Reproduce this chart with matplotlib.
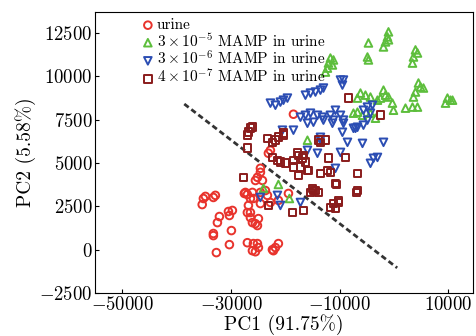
import matplotlib
matplotlib.use("Agg")
import matplotlib.pyplot as plt

plt.rcParams['font.family'] = 'serif'
plt.rcParams['font.serif'] = ['cmr10']
plt.rcParams['mathtext.fontset'] = 'cm'
plt.rcParams['axes.formatter.use_mathtext'] = True

# urine
urine_x = [-35300, -35080, -33240, -32870, -32130, -32500, -30470, -29740, -30290, -33240,
           -33240, -29920, -30290, -32690, -26980, -26790, -26420, -26980, -26420, -26050,
           -25500, -24950, -25130, -26980, -25870, -25130, -26050, -25500, -24950, -22190,
           -21820, -21270, -22370, -24580, -25870, -24580, -26420, -18500, -22740, -23110,
           -24580, -25130, -24210, -25500, -27340, -26050, -23290, -22740, -19420, -27530,
           -23660, -21270, -34700, -24580]
urine_y = [2600, 2950, 3010, 3130, 1910, 1560, 2200, 2260, 1970, 930,
           810, 1100, 290, -170, 3180, 2550, 2140, 2140, 1850, 1560,
           1500, 1790, 1390, 400, 350, 350, -60, -120, 120, -60,
           120, 350, 0, 3300, 2950, 2660, 2950, 7810, 5730, 5560,
           4460, 4170, 3990, 3990, 3300, 3300, 3130, 2720, 3240, 3240,
           3410, 2840, 3070, 4690]

# 3x10^-5 MAMP
g_x = [-1000, -1190, -1550, -1920, -1000, -4690, -4870, -4690, 3970, 3600,
       3420, 4340, -11690, -12050, -12240, -11130, -11320, -12610, 4520, 4890,
       5440, 3970, 3600, 9860, 10420, 9500, 10790, -1920, -1550, -1000,
       -2480, -3030, -6160, -5240, -4320, -6710, -270, -80, 2130, 3420,
       4340, -7450, -6710, -5790, -3400, -4320, -15920, -24030, -21270, -19240]
g_y = [12560, 12270, 11980, 11690, 12100, 11920, 11110, 10940, 11520, 11110,
       10760, 11340, 11050, 10760, 10470, 10940, 10650, 10240, 9610, 9380,
       9320, 9090, 8800, 8740, 8620, 8450, 8620, 9200, 8910, 8800,
       8740, 8620, 9030, 8910, 8800, 8740, 8450, 8040, 8160, 8220,
       8220, 7870, 7930, 7750, 7580, 7870, 6310, 3530, 3760, 2950]

# 3x10^-6 MAMP
b_x = [-22740, -21820, -20900, -20340, -19610, -16290, -15370, -14450, -13530, -12980,
       -9840, -9480, -9290, -17210, -16290, -15370, -14080, -13160, -11690, -10770,
       -9840, -9290, -15920, -14820, -12980, -11130, -9290, -6710, -7450, -5610,
       -4870, -4320, -4870, -3950, -5610, -20530, -18500, -8550, -5790, -1920,
       -13530, -15920, -14080, -9840, -4320, -3770, -3030, -10770, -17210, -11320,
       -9480, -7080, -24580, -21450, -20900, -13530]
b_y = [8450, 8330, 8510, 8620, 8740, 8910, 9030, 9090, 9200, 9320,
       9780, 9490, 9780, 7640, 7750, 7870, 7750, 7640, 7750, 8040,
       7750, 7470, 7290, 7350, 7470, 7470, 7290, 7060, 7000, 7180,
       7470, 7870, 8220, 8330, 8040, 6890, 6890, 6190, 6130, 6190,
       6310, 5730, 5560, 5610, 4980, 5270, 5320, 4690, 2720, 7290,
       6770, 7000, 3010, 3130, 2550, 6480]

# 4x10^-7 MAMP
r_x = [-26790, -26420, -26050, -23290, -21820, -21270, -20340, -22370, -13530, -12610,
       -8370, -2480, -26980, -26980, -22370, -21450, -20900, -19980, -18500, -17580,
       -16840, -16290, -17210, -15920, -17580, -27710, -15000, -14450, -17770, -16660,
       -15740, -13530, -12240, -11690, -12050, -8920, -6710, -10770, -6710, -14820,
       -13900, -15370, -10210, -11130, -13900, -23110, -18690, -16660, -11690, -10210,
       -10770, -6900, -10580, -20340, -18500]
r_y = [6770, 7000, 7060, 6420, 6310, 6480, 6710, 6190, 6190, 6310,
       8740, 7750, 5850, 6600, 5320, 5150, 5040, 4980, 5150, 5440,
       5270, 5040, 4750, 4570, 4280, 4170, 3530, 3410, 5560, 5440,
       4570, 4400, 4570, 4460, 5270, 5320, 4400, 3820, 3410, 3410,
       3300, 3300, 2840, 2660, 6310, 2550, 2140, 2260, 2430, 2720,
       2370, 3300, 3760, 6600, 4750]

line_x = [-38600, 600]
line_y = [8400, -1050]

fig = plt.figure(figsize=(4.76, 3.36), dpi=100)
ax = fig.add_axes([0.2, 0.128, 0.793, 0.836])

ax.plot(line_x, line_y, color='#333333', lw=2, ls=(0, (2, 1.2)), zorder=1)

kw = dict(s=30, facecolors='none', linewidths=1.4)
ax.scatter(urine_x, urine_y, marker='o', edgecolors='#e8332c', label='urine', **kw)
ax.scatter(g_x, g_y, marker='^', edgecolors='#5dbe3c', label=r'$3\times10^{-5}$ MAMP in urine', **kw)
ax.scatter(b_x, b_y, marker='v', edgecolors='#2b4db3', label=r'$3\times10^{-6}$ MAMP in urine', **kw)
ax.scatter(r_x, r_y, marker='s', edgecolors='#8a1c1c', label=r'$4\times10^{-7}$ MAMP in urine', **kw)

ax.set_xlim(-55000, 14500)
ax.set_ylim(-2500, 13700)
ax.set_xticks([-50000, -30000, -10000, 10000])
ax.set_yticks([-2500, 0, 2500, 5000, 7500, 10000, 12500])
ax.tick_params(direction='in', length=3, labelsize=13.5, pad=2)
ax.set_xlabel('PC1 (91.75%)', fontsize=14, labelpad=0)
ax.set_ylabel('PC2 (5.58%)', fontsize=14, labelpad=2)

ax.legend(loc='upper left', bbox_to_anchor=(0.095, 1.01), frameon=False, fontsize=11,
          handletextpad=0.1, borderaxespad=0.2, labelspacing=0.0, handlelength=1.0)

fig.savefig('out.png', dpi=100)
